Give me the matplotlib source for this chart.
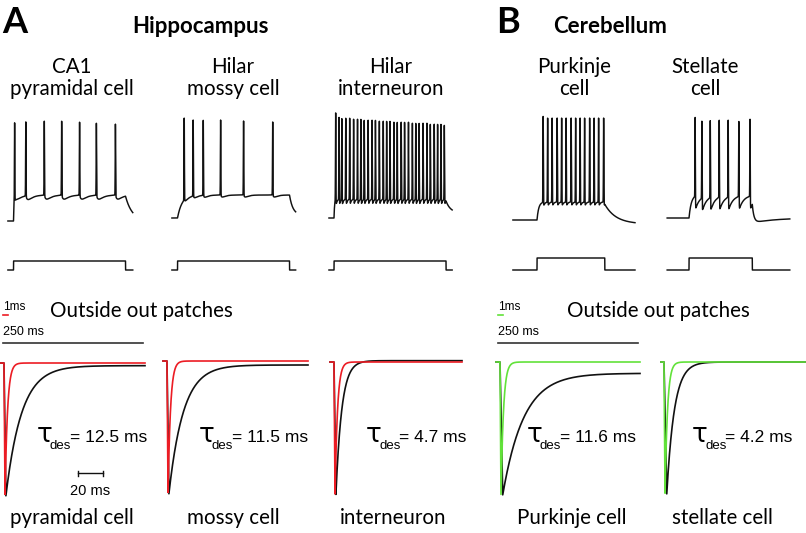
import numpy as np
import matplotlib.pyplot as plt

# ---------------- data ----------------
top_labels = ["CA1\npyramidal cell", "Hilar\nmossy cell", "Hilar\ninterneuron",
              "Purkinje\ncell", "Stellate\ncell"]
bottom_labels = ["pyramidal cell", "mossy cell", "interneuron",
                 "Purkinje cell", "stellate cell"]
tau_des = [12.5, 11.5, 4.7, 11.6, 4.2]          # ms, desensitization
tau_des_txt = ["12.5", "11.5", "4.7", "11.6", "4.2"]

# spike times (ms after step onset) and spike peaks (mV)
ca1_spikes = [2, 22, 55, 86, 118, 148, 182]
ca1_peaks = [40, 35, 35, 35, 34, 33, 32]
mossy_spikes = [12, 28, 46, 77, 118, 170]
mossy_peaks = [40, 34, 33, 33, 32, 31]
intern_spikes = [3, 9, 14, 21, 28, 35, 42, 48, 54, 61, 68, 74, 81, 88, 94, 100,
                 107, 113, 120, 126, 133, 140, 146, 152, 159, 166, 172, 179, 185,
                 191, 197]
intern_peaks = [41, 36, 35, 35, 35, 34, 34, 34, 33, 33, 33, 33, 32, 32, 32, 32,
                31, 31, 31, 31, 31, 30, 30, 30, 30, 30, 29, 29, 29, 29, 28]
purk_spikes = [11, 19, 27, 36, 44, 52, 61, 69, 77, 85, 94, 102, 110, 119]
purk_peaks = [39, 37, 37, 37, 37, 37, 37, 37, 37, 37, 37, 37, 37, 37]
stell_spikes = [11, 23, 38, 54, 70, 89, 109]
stell_peaks = [37, 35, 35, 35, 35, 33, 35]

spikes = [ca1_spikes, mossy_spikes, intern_spikes, purk_spikes, stell_spikes]
peaks = [ca1_peaks, mossy_peaks, intern_peaks, purk_peaks, stell_peaks]

v_rest = [-65, -65, -65, -65, -65]        # mV
v_plateau = [-39, -42, -46, -47, -42]     # mV during the current step
v_end = [-65, -62, -60, -69, -70]         # level reached after the step
step_ms = [200, 200, 200, 121, 113]       # step duration
step_pA = [300, 300, 300, 400, 400]
t_start = [-10, -10, -9, -43, -39]
t_stop = [213, 211, 211, 175, 180]

# kinetics of the firing traces (ms)
tau_on = [1.5, 8, 1, 3, 4]
tau_off = [12, 6, 8, 20, 3]
tau_rec = [np.inf, np.inf, np.inf, np.inf, 40]
ahp_mV = [4, 2, 5, 3, 12]
ahp_rise = [3, 2, 0.3, 0.5, 0.3]
ahp_decay = [8, 6, 2, 2, 8]

# outside-out patch currents (normalised)
steady_black = [0.02, 0.03, -0.01, 0.085, 0.0]
tau_fast = [0.5, 0.5, 0.5, 0.5, 0.5]     # ms, red / green traces

# ---------------- layout (pixels) ----------------
W, H = 806, 533
px_ms_top = 0.56          # 250 ms = 140 px
px_mV = 1.0
px_pA = 0.03
px_ms_slow = [1.25, 1.25, 1.25, 1.8, 1.8]
px_ms_fast = 5.0
amp_px = 133

top_x_on = [13.5, 177.5, 334, 537, 689]
top_y_rest = [221, 218, 218, 220, 218]
step_y_low = 270
label_x = [72, 233, 391, 574, 705]

patch_x0 = [0, 163, 330, 496, 661]
patch_x_on = [4, 167, 334, 500, 664]
patch_x1 = [145, 308, 462, 640, 805]
patch_y0 = [363, 361, 362, 362, 362]
tau_x = [37, 199, 366, 527, 692]
bottom_x = [72, 233, 393, 572, 722]
fast_color = ["#ec1c24", "#ec1c24", "#ec1c24", "#62e23a", "#62e23a"]

CAL = "Lato"
ARIAL = "Liberation Sans"


def firing_trace(t, k):
    rest, plat, t_off = v_rest[k], v_plateau[k], step_ms[k]
    v = np.full(t.shape, float(rest))
    on = (t >= 0) & (t <= t_off)
    v[on] = rest + (plat - rest) * (1 - np.exp(-t[on] / tau_on[k]))
    r, dcy = ahp_rise[k], ahp_decay[k]
    tp = r * dcy / (dcy - r) * np.log(dcy / r)
    norm = np.exp(-tp / dcy) - np.exp(-tp / r)
    for ts in spikes[k]:
        d = t - ts
        m = on & (d > 0)
        v[m] -= ahp_mV[k] / norm * (np.exp(-d[m] / dcy) - np.exp(-d[m] / r))
    v_off = v[on][-1]
    d = t - t_off
    m = d > 0
    v[m] = (v_end[k] + (v_off - v_end[k]) * np.exp(-d[m] / tau_off[k])
            + (rest - v_end[k]) * (1 - np.exp(-d[m] / tau_rec[k])))
    for ts, pk in zip(spikes[k], peaks[k]):
        v += (pk - plat) * np.exp(-0.5 * ((t - ts) / 0.35) ** 2)
    return v


def patch_trace(t, rise, tau, ss):
    i = np.zeros(t.shape)
    m1 = (t >= 0) & (t < rise)
    i[m1] = -t[m1] / rise
    m2 = t >= rise
    i[m2] = -(ss + (1 - ss) * np.exp(-(t[m2] - rise) / tau))
    return i


fig = plt.figure(figsize=(W / 100, H / 100), dpi=100)
ax = fig.add_axes([0, 0, 1, 1])
ax.set_xlim(0, W)
ax.set_ylim(H, 0)
ax.axis("off")

# panel letters and region titles
ax.text(2, 33, "A", fontsize=26, fontweight="bold", family=CAL, va="baseline")
ax.text(496, 33, "B", fontsize=26, fontweight="bold", family=CAL, va="baseline")
ax.text(200, 33, "Hippocampus", fontsize=16, fontweight="bold", family=CAL,
        ha="center", va="baseline")
ax.text(610, 33, "Cerebellum", fontsize=16, fontweight="bold", family=CAL,
        ha="center", va="baseline")

for k in range(5):
    l1, l2 = top_labels[k].split("\n")
    ax.text(label_x[k], 73, l1, fontsize=14.8, family=CAL, ha="center", va="baseline")
    ax.text(label_x[k], 95, l2, fontsize=14.8, family=CAL, ha="center", va="baseline")

    # voltage trace
    t = np.arange(t_start[k], t_stop[k], 0.02)
    v = firing_trace(t, k)
    ax.plot(top_x_on[k] + t * px_ms_top, top_y_rest[k] - (v - v_rest[k]) * px_mV,
            color="#111111", lw=1.05)
    # current step
    cur = np.where((t >= 0) & (t <= step_ms[k]), step_pA[k], 0)
    ax.plot(top_x_on[k] + t * px_ms_top, step_y_low - cur * px_pA,
            color="#111111", lw=1.05)

    # outside-out patch responses
    ts = np.linspace((patch_x0[k] - patch_x_on[k]) / px_ms_slow[k],
                     (patch_x1[k] - patch_x_on[k]) / px_ms_slow[k], 1500)
    ib = patch_trace(ts, 1.5, tau_des[k], steady_black[k])
    ax.plot(patch_x_on[k] + ts * px_ms_slow[k], patch_y0[k] - ib * amp_px,
            color="#111111", lw=1.2)
    tf = np.linspace((patch_x0[k] - patch_x_on[k]) / px_ms_fast,
                     (patch_x1[k] - patch_x_on[k]) / px_ms_fast, 1500)
    ifast = patch_trace(tf, 0.2, tau_fast[k], 0.0)
    ax.plot(patch_x_on[k] + tf * px_ms_fast, patch_y0[k] - ifast * amp_px,
            color=fast_color[k], lw=1.2)

    # tau label
    ax.text(tau_x[k], 442, "\u03c4", fontsize=19, family="DejaVu Sans", va="baseline")
    ax.text(tau_x[k] + 13, 449, "des", fontsize=9.5, family=ARIAL, va="baseline")
    ax.text(tau_x[k] + 33, 442, "= " + tau_des_txt[k] + " ms", fontsize=12.5,
            family=ARIAL, va="baseline")

    ax.text(bottom_x[k], 524, bottom_labels[k], fontsize=14.8, family=CAL,
            ha="center", va="baseline")

# scale bars
for x0, col in [(3, "#ec1c24"), (498, "#62e23a")]:
    ax.plot([x0, x0 + 1 * px_ms_fast], [315, 315], color=col, lw=1.2)
    ax.text(x0, 310, "1ms", fontsize=8.5, family=ARIAL, va="baseline")
    ax.text(x0, 335, "250 ms", fontsize=9, family=ARIAL, va="baseline")
    ax.plot([x0, x0 + 250 * px_ms_top], [343, 343], color="#333333", lw=1.2)
    ax.text(x0 + 47 if x0 < 100 else x0 + 69, 317, "Outside out patches",
            fontsize=14.8, family=CAL, va="baseline")

bar_x = 77.5
bar_len = 20 * px_ms_slow[0]
ax.plot([bar_x, bar_x + bar_len], [473, 473], color="#111111", lw=1.0)
ax.plot([bar_x, bar_x], [470.5, 475.5], color="#111111", lw=1.0)
ax.plot([bar_x + bar_len, bar_x + bar_len], [470.5, 475.5], color="#111111", lw=1.0)
ax.text(bar_x + bar_len / 2, 495, "20 ms", fontsize=10.5, family=ARIAL,
        ha="center", va="baseline")

fig.savefig("out.png", dpi=100)
